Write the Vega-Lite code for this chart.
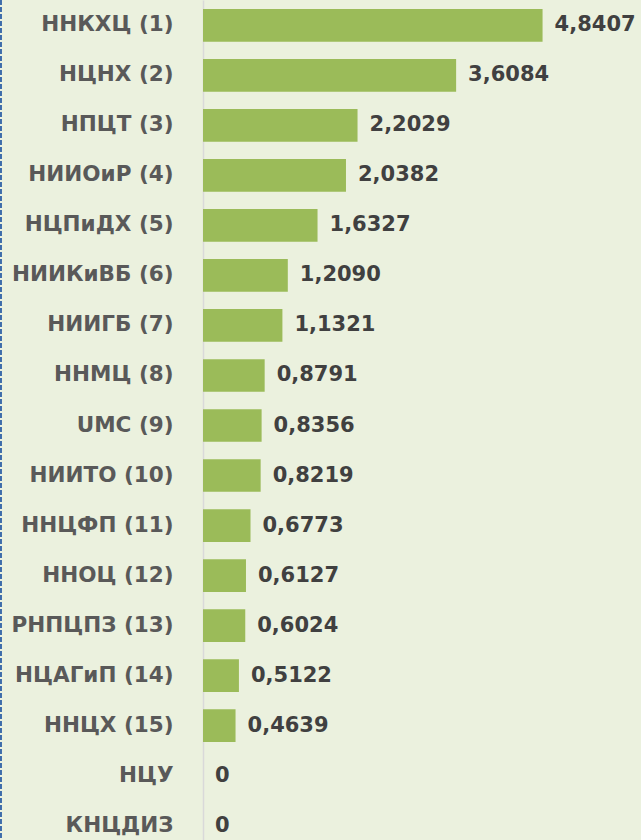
{
  "$schema": "https://vega.github.io/schema/vega-lite/v6.json",
  "width": 438,
  "height": 851,
  "autosize": {"type": "none"},
  "padding": {"left": 203, "top": 0, "right": 0, "bottom": 0},
  "background": "#EBF1DE",
  "config": {"view": {"stroke": null}},
  "data": {"values": [
    {"org": "ННКХЦ (1)", "value": 4.8407, "txt": "4,8407"},
    {"org": "НЦНХ (2)", "value": 3.6084, "txt": "3,6084"},
    {"org": "НПЦТ (3)", "value": 2.2029, "txt": "2,2029"},
    {"org": "НИИОиР (4)", "value": 2.0382, "txt": "2,0382"},
    {"org": "НЦПиДХ (5)", "value": 1.6327, "txt": "1,6327"},
    {"org": "НИИКиВБ (6)", "value": 1.2090, "txt": "1,2090"},
    {"org": "НИИГБ (7)", "value": 1.1321, "txt": "1,1321"},
    {"org": "ННМЦ (8)", "value": 0.8791, "txt": "0,8791"},
    {"org": "UMC (9)", "value": 0.8356, "txt": "0,8356"},
    {"org": "НИИТО (10)", "value": 0.8219, "txt": "0,8219"},
    {"org": "ННЦФП (11)", "value": 0.6773, "txt": "0,6773"},
    {"org": "ННОЦ (12)", "value": 0.6127, "txt": "0,6127"},
    {"org": "РНПЦПЗ (13)", "value": 0.6024, "txt": "0,6024"},
    {"org": "НЦАГиП (14)", "value": 0.5122, "txt": "0,5122"},
    {"org": "ННЦХ (15)", "value": 0.4639, "txt": "0,4639"},
    {"org": "НЦУ", "value": 0, "txt": "0"},
    {"org": "КНЦДИЗ", "value": 0, "txt": "0"}
  ]},
  "encoding": {
    "y": {
      "field": "org", "type": "nominal", "sort": null,
      "scale": {"paddingInner": 0.346, "paddingOuter": 0.18},
      "axis": {
        "title": null, "ticks": false, "labelPadding": 30,
        "labelFont": "DejaVu Sans", "labelFontWeight": "bold", "labelFontSize": 21.5,
        "labelColor": "#595959", "domainColor": "#D9D9D9", "domainWidth": 1.5,
        "labelLimit": 300
      }
    },
    "x": {
      "field": "value", "type": "quantitative",
      "scale": {"domain": [0, 6.244], "nice": false, "zero": true},
      "axis": null
    }
  },
  "layer": [
    {"mark": {"type": "bar", "color": "#9BBB59"}},
    {
      "mark": {"type": "text", "align": "left", "baseline": "middle", "dx": 12,
               "font": "DejaVu Sans", "fontWeight": "bold", "fontSize": 21, "color": "#404040"},
      "encoding": {"text": {"field": "txt"}}
    },
    {
      "data": {"values": [{"edge": -2.88}]},
      "mark": {"type": "rule", "color": "#3E6DAA", "strokeWidth": 2, "strokeDash": [5, 2]},
      "encoding": {"x": {"field": "edge", "type": "quantitative"}, "y": null}
    }
  ]
}
